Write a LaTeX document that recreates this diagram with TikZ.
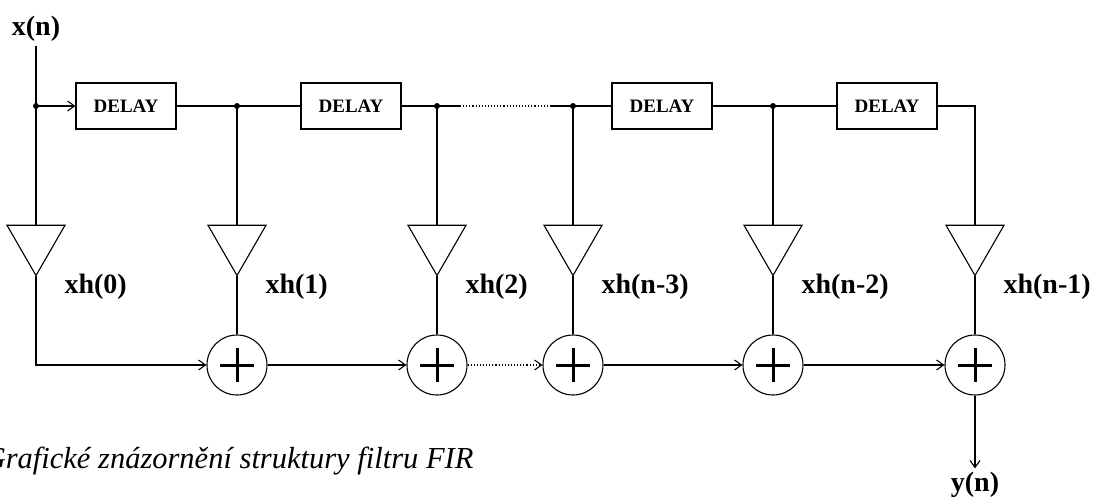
\documentclass[tikz,border=0pt]{standalone}
\usepackage{fontspec}
\setmainfont{Liberation Serif}
\usetikzlibrary{arrows.meta,shapes.geometric}
\begin{document}
\begin{tikzpicture}[x=1pt,y=-1pt,line width=1.1pt,
  >={Straight Barb[length=7pt,width=10pt]},
  delay/.style={draw,minimum width=100pt,minimum height=46pt,
    font=\bfseries\fontsize{19}{21}\selectfont},
  amp/.style={draw,regular polygon,regular polygon sides=3,
    shape border rotate=180,minimum size=67pt,inner sep=0pt,outer sep=0pt},
  sum/.style={draw,circle,minimum size=60pt,inner sep=0pt,path picture={
    \draw[line width=3pt] ([xshift=-17pt]path picture bounding box.center)
      -- ([xshift=17pt]path picture bounding box.center)
      ([yshift=-17pt]path picture bounding box.center)
      -- ([yshift=17pt]path picture bounding box.center);}},
  lbl/.style={font=\bfseries\fontsize{28}{30}\selectfont}]
\useasboundingbox (0,0) rectangle (1093,498);
\node[lbl] (xn) at (36,29) {x(n)};
\node[lbl] (yn) at (975,485) {y(n)};
\foreach \i/\x in {1/126,2/351,3/662,4/887}
  \node[delay] (d\i) at (\x,106) {DELAY};
\foreach \i/\x/\w in {0/36/0,1/237/1,2/437/2,3/573/n-3,4/773/n-2,5/975/n-1} {
  \node[amp] (a\i) at (\x,242) {};
  \node[lbl,anchor=west,inner sep=0pt] (h\i) at (\x+28,287) {xh(\w)};
}
\foreach \i/\x in {1/237,2/437,3/573,4/773,5/975}
  \node[sum] (s\i) at (\x,365) {};
\foreach \i/\x in {0/36,1/237,2/437,3/573,4/773}
  \coordinate (j\i) at (\x,106);
\coordinate (g1) at (460,106);
\coordinate (g2) at (550,106);
% delay line
\draw (xn) -- (a0.north);
\draw[->] (j0) -- (d1);
\draw (d1) -- (d2);
\draw (d2.east) -- (g1);
\draw[dotted] (g1) -- (g2); % skipped stages
\draw (g2) -- (d3);
\draw (d3) -- (d4);
\draw (d4.east) -| (a5.north);
\foreach \i in {1,...,4}
  \draw (j\i) -- (a\i.north);
\foreach \i in {0,...,4}
  \fill (j\i) circle[radius=3pt];
% adders
\foreach \i in {1,...,5}
  \draw (a\i.south) -- (s\i.north);
\draw[->] (a0.south) |- (s1);
\draw[->] (s1) -- (s2);
\draw[->,dotted] (s2) -- (s3);
\draw[->] (s3) -- (s4);
\draw[->] (s4) -- (s5);
\draw[->] (s5) -- (yn);
\node[anchor=base east,inner sep=0pt,font=\itshape\fontsize{30.5}{33}\selectfont] (cap)
  at (474,468) {Grafické znázornění struktury filtru FIR};
\end{tikzpicture}
\end{document}
